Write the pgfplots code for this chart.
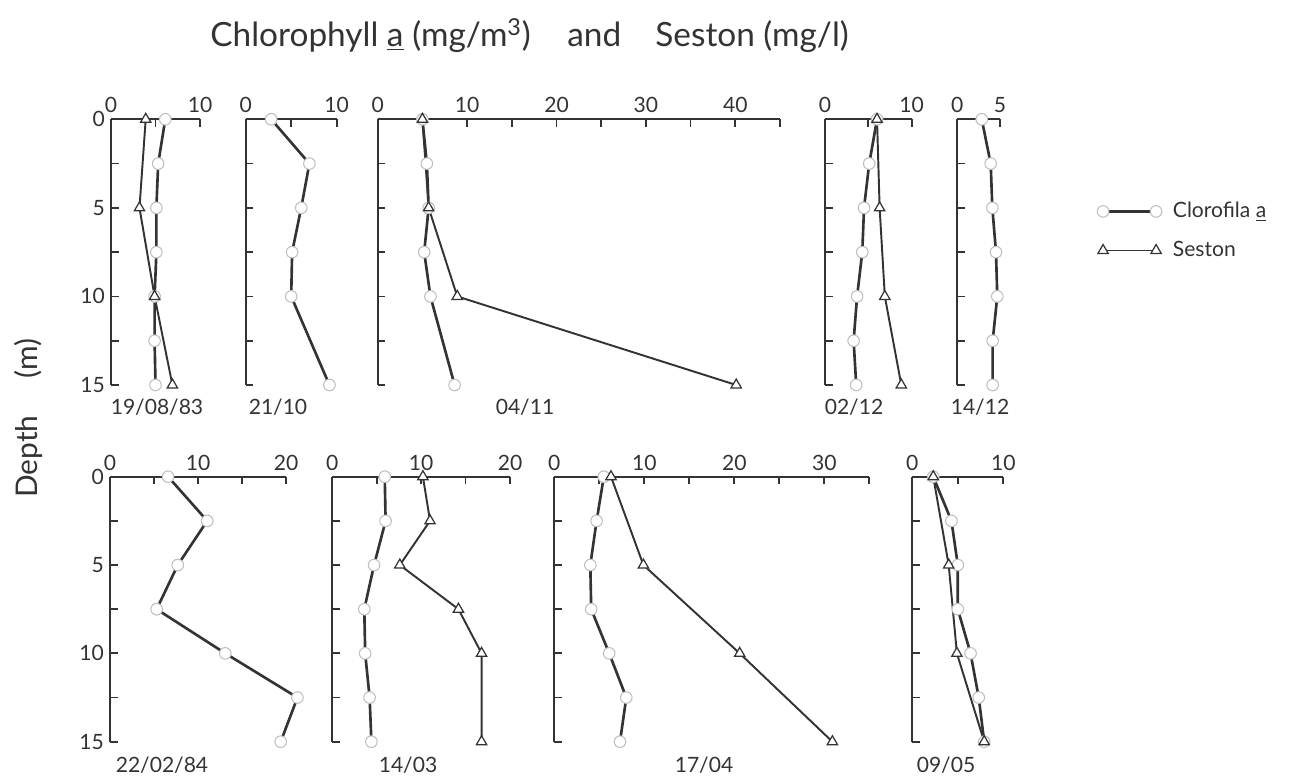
\documentclass[border=0pt]{standalone}
\usepackage{pgfplots}
\pgfplotsset{compat=1.18}
\usepackage{fontspec}
\setmainfont{Lato}

% one panel = one sampling date; depth is stored negative so 0 m sits on top
\pgfplotsset{
  prof/.style={scale only axis, ymin=-15, ymax=0, xmin=0,
    axis x line=top, axis y line=left, axis line style={-, line width=1pt, black!80},
    enlargelimits=false, clip=false, tick align=inside,
    major tick length=0.15cm, tick style={line width=1pt, black!80},
    ytick={-15,-12.5,-10,-7.5,-5,-2.5,0}, yticklabels={},
    ticklabel style={font=\fontsize{12}{14}\selectfont, text=black!80}},
  first/.style={yticklabels={15,,10,,5,,0}},
  top/.style={prof, height=5.314cm, anchor=north west},
  bot/.style={prof, height=5.30cm, anchor=north west},
  chl/.style={line width=1.5pt, black!80, mark=*, mark size=3.3pt,
    mark options={fill=white, draw=black!25, line width=0.6pt}},
  ses/.style={line width=1.1pt, black!80, mark=triangle*, mark size=3.4pt,
    mark options={fill=white, draw=black!80, line width=0.7pt}},
}

\begin{document}
\begin{tikzpicture}
\useasboundingbox (0,0) rectangle (25.98,15.52);

% ---- top row ----
\begin{axis}[top, first, at={(2.22cm,13.134cm)}, width=1.78cm, xmax=10,
  xtick={0,5,10}, xticklabels={0,,10}]
\addplot[chl] coordinates {(6.1,0) (5.3,-2.5) (5.1,-5) (5.1,-7.5) (4.9,-10) (4.9,-12.5) (5.0,-15)};
\addplot[ses] coordinates {(3.9,0) (3.2,-5) (4.9,-10) (6.9,-15)};
\end{axis}

\begin{axis}[top, at={(4.914cm,13.134cm)}, width=1.82cm, xmax=10,
  xtick={0,5,10}, xticklabels={0,,10}]
\addplot[chl] coordinates {(2.8,0) (7.0,-2.5) (6.1,-5) (5.1,-7.5) (5.0,-10) (9.2,-15)};
\end{axis}

\begin{axis}[top, at={(7.554cm,13.134cm)}, width=8.046cm, xmax=45,
  xtick={0,5,...,45}, xticklabels={0,,10,,20,,30,,40,}]
\addplot[chl] coordinates {(5.0,0) (5.5,-2.5) (5.7,-5) (5.2,-7.5) (5.9,-10) (8.6,-15)};
\addplot[ses] coordinates {(5.0,0) (5.7,-5) (8.9,-10) (40.1,-15)};
\end{axis}

\begin{axis}[top, at={(16.5cm,13.134cm)}, width=1.734cm, xmax=10,
  xtick={0,5,10}, xticklabels={0,,10}]
\addplot[chl] coordinates {(6.0,0) (5.1,-2.5) (4.5,-5) (4.3,-7.5) (3.7,-10) (3.3,-12.5) (3.6,-15)};
\addplot[ses] coordinates {(6.0,0) (6.3,-5) (6.9,-10) (8.8,-15)};
\end{axis}

\begin{axis}[top, at={(19.146cm,13.134cm)}, width=0.854cm, xmax=5,
  xtick={0,5}, xticklabels={0,5},
  legend style={at={(axis description cs:3.27,0.58)}, anchor=west,
    draw=none, fill=none, inner sep=0pt, row sep=0.28cm, column sep=0.15cm,
    font=\fontsize{12}{14}\selectfont, text=black!80},
  legend cell align=left,
  legend image code/.code={\draw[#1] plot coordinates {(0cm,0cm) (1.06cm,0cm)};}]
\addplot[chl] coordinates {(2.86,0) (3.91,-2.5) (4.10,-5) (4.53,-7.5) (4.68,-10) (4.14,-12.5) (4.14,-15)};
\addlegendentry{Clorofila \underline{a}}
\addlegendimage{ses}
\addlegendentry{Seston}
\end{axis}

% ---- bottom row ----
\begin{axis}[bot, first, at={(2.2cm,5.986cm)}, width=3.52cm, xmax=20,
  xtick={0,5,...,20}, xticklabels={0,,10,,20}]
\addplot[chl] coordinates {(6.6,0) (11.05,-2.5) (7.7,-5) (5.3,-7.5) (13.1,-10) (21.3,-12.5) (19.4,-15)};
\end{axis}

\begin{axis}[bot, at={(6.646cm,5.986cm)}, width=3.554cm, xmax=20,
  xtick={0,5,...,20}, xticklabels={0,,10,,20}]
\addplot[chl] coordinates {(5.9,0) (6.0,-2.5) (4.7,-5) (3.6,-7.5) (3.7,-10) (4.2,-12.5) (4.4,-15)};
\addplot[ses] coordinates {(10.2,0) (11.0,-2.5) (7.6,-5) (14.2,-7.5) (16.8,-10) (16.8,-15)};
\end{axis}

\begin{axis}[bot, at={(11.086cm,5.986cm)}, width=6.30cm, xmax=35,
  xtick={0,5,...,35}, xticklabels={0,,10,,20,,30,}]
\addplot[chl] coordinates {(5.5,0) (4.7,-2.5) (4.0,-5) (4.1,-7.5) (6.1,-10) (8.0,-12.5) (7.3,-15)};
\addplot[ses] coordinates {(6.3,0) (9.9,-5) (20.6,-10) (30.9,-15)};
\end{axis}

\begin{axis}[bot, at={(18.246cm,5.986cm)}, width=1.82cm, xmax=10,
  xtick={0,5,10}, xticklabels={0,,10}]
\addplot[chl] coordinates {(2.3,0) (4.3,-2.5) (5.0,-5) (5.0,-7.5) (6.4,-10) (7.3,-12.5) (7.9,-15)};
\addplot[ses] coordinates {(2.3,0) (4.0,-5) (4.9,-10) (7.9,-15)};
\end{axis}

% ---- texts ----
\begin{scope}[every node/.style={text=black!80, font=\fontsize{12}{14}\selectfont}]
\node at (3.14,7.38) {19/08/83};
\node at (5.56,7.38) {21/10};
\node at (10.5,7.38) {04/11};
\node at (17.08,7.38) {02/12};
\node at (19.6,7.38) {14/12};
\node at (3.24,0.22) {22/02/84};
\node at (8.16,0.22) {14/03};
\node at (14.08,0.22) {17/04};
\node at (18.92,0.22) {09/05};
\end{scope}

\begin{scope}[every node/.style={text=black!80, font=\fontsize{19}{21}\selectfont, anchor=base west, inner sep=0pt}]
\node at (4.2,14.58) {Chlorophyll \underline{a}};
\node at (8.24,14.58) {(mg/m\textsuperscript{3})};
\node at (11.34,14.58) {and};
\node at (13.1,14.58) {Seston (mg/l)};
\end{scope}

\node[rotate=90, text=black!80, font=\fontsize{17}{20}\selectfont] at (0.56,7.16) {Depth\hspace{0.75cm}(m)};
\end{tikzpicture}
\end{document}
